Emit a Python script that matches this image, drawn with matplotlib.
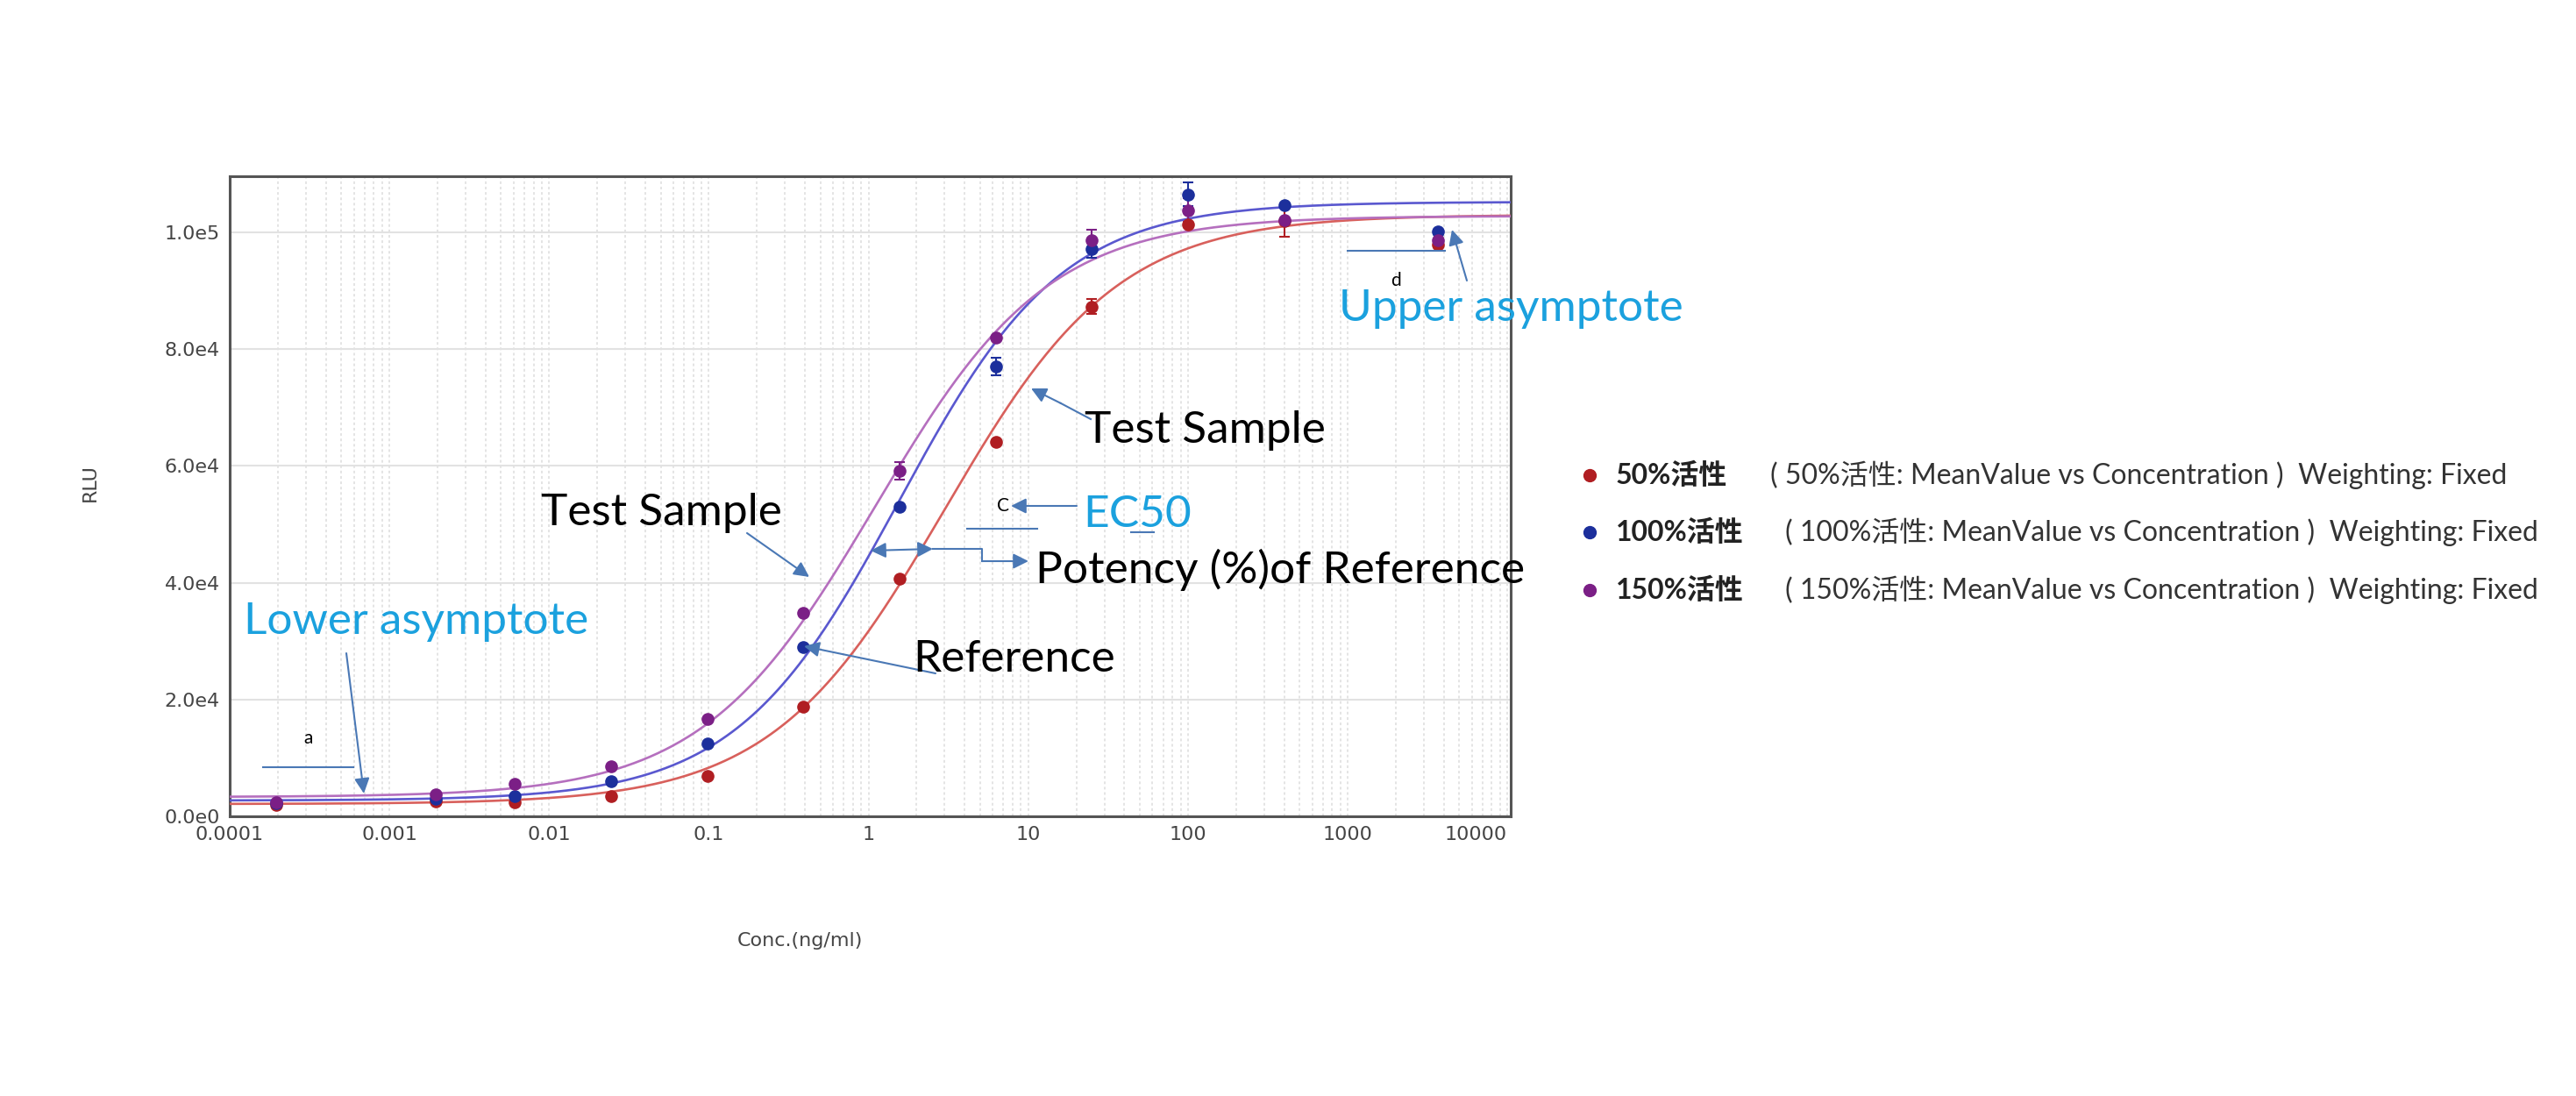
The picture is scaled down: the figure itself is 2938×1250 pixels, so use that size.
import matplotlib
matplotlib.use("Agg")
import matplotlib.pyplot as plt
from matplotlib.lines import Line2D
import numpy as np

W, H = 2938, 1250

# concentrations (ng/ml) and mean RLU
conc = [0.000195, 0.00195, 0.0061, 0.0244, 0.0977, 0.39, 1.5625, 6.25, 25, 100, 400, 3700]
rlu_50 = [2000, 2480, 2330, 3470, 6950, 18700, 40700, 64100, 87260, 101400, 102000, 97900]
rlu_100 = [2300, 2980, 3470, 5960, 12400, 29000, 53000, 77000, 97200, 106500, 104600, 100150]
rlu_150 = [2330, 3720, 5560, 8590, 16670, 34800, 59200, 82000, 98700, 103800, 102100, 98700]
err_50 = [0, 0, 0, 0, 0, 0, 0, 0, 1300, 0, 2800, 0]
err_100 = [0, 0, 0, 0, 0, 0, 0, 1500, 1500, 2000, 0, 0]
err_150 = [0, 0, 0, 0, 0, 0, 1500, 0, 1800, 2000, 0, 1200]

# 4PL fit parameters a (lower), b (slope), c (EC50), d (upper)
fit_50 = [2100, 0.80, 3.0, 103000]
fit_100 = [2700, 0.85, 1.55, 105200]
fit_150 = [3300, 0.80, 1.1, 102800]

names = ["50%活性", "100%活性", "150%活性"]
x_ticks = [1e-4, 1e-3, 1e-2, 1e-1, 1, 10, 100, 1000, 10000]
x_tick_labels = ["0.0001", "0.001", "0.01", "0.1", "1", "10", "100", "1000", "10000"]
y_ticks = [0, 20000, 40000, 60000, 80000, 100000]
y_tick_labels = ["0.0e0", "2.0e4", "4.0e4", "6.0e4", "8.0e4", "1.0e5"]

pt_colors = ["#b01e22", "#1c2f9c", "#7b1f86"]
line_colors = ["#d8605c", "#5a58cf", "#b56fbe"]
arrow_c = "#4a78b5"
cyan = "#1ba1de"

plt.rcParams['font.family'] = ['DejaVu Sans']


def fx(x):
    return x / W


def fy(y):
    return 1 - y / H


def four_pl(x, a, b, c, d):
    return d + (a - d) / (1 + (x / c) ** b)


fig = plt.figure(figsize=(W / 100, H / 100), dpi=100)
ax = fig.add_axes([fx(262), fy(931), (1723 - 262) / W, (931 - 201) / H])

xs = np.logspace(-4, 4.05, 500)
series = [(rlu_50, err_50, fit_50), (rlu_100, err_100, fit_100), (rlu_150, err_150, fit_150)]
for i, (vals, errs, fit) in enumerate(series):
    ax.plot(xs, four_pl(xs, *fit), color=line_colors[i], lw=1.9, zorder=3)
for i, (vals, errs, fit) in enumerate(series):
    ax.errorbar(conc, vals, yerr=errs, fmt='o', color=pt_colors[i], ms=9.5,
                elinewidth=1.5, capsize=4, capthick=1.5, zorder=4)

ax.set_xscale('log')
ax.set_xlim(1e-4, 1.05e4)
ax.set_ylim(0, 109600)
ax.set_xticks(x_ticks)
ax.set_xticklabels(x_tick_labels)
ax.set_yticks(y_ticks)
ax.set_yticklabels(y_tick_labels)
ax.get_xticklabels()[-1].set_horizontalalignment('right')
ax.tick_params(length=0, labelsize=16, labelcolor='#454545', pad=8)
ax.tick_params(which='minor', length=0)
ax.grid(which='major', axis='y', color='#e2e2e2', lw=1.5)
ax.grid(which='both', axis='x', color='#dddddd', lw=1.1, ls=(0, (2, 2)))
ax.set_axisbelow(True)
for s in ax.spines.values():
    s.set_color('#555555')
    s.set_linewidth(2.2)

fig.text(fx(103), fy(551), "RLU", rotation=90, fontsize=16, color='#454545',
         ha='center', va='center')
fig.text(fx(912), fy(1073), "Conc.(ng/ml)", fontsize=16, color='#454545',
         ha='center', va='center')

# annotations
ann_font = ['Lato', 'DejaVu Sans']
big = 37
fig.text(fx(617), fy(585), "Test Sample", fontsize=big, family=ann_font, ha='left', va='center')
fig.text(fx(1237), fy(491), "Test Sample", fontsize=big, family=ann_font, ha='left', va='center')
fig.text(fx(1041), fy(752), "Reference", fontsize=big, family=ann_font, ha='left', va='center')
fig.text(fx(1181), fy(650), "Potency (%)of Reference", fontsize=big, family=ann_font,
         ha='left', va='center')
fig.text(fx(1235), fy(587), "EC50", fontsize=big, family=ann_font, color=cyan, ha='left', va='center')
fig.text(fx(1527), fy(352), "Upper asymptote", fontsize=big, family=ann_font, color=cyan,
         ha='left', va='center')
fig.text(fx(278), fy(709), "Lower asymptote", fontsize=big, family=ann_font, color=cyan,
         ha='left', va='center')
fig.text(fx(352), fy(842), "a", fontsize=15, family=ann_font, ha='center', va='center')
fig.text(fx(1144), fy(577), "C", fontsize=15, family=ann_font, ha='center', va='center')
fig.text(fx(1592), fy(320), "d", fontsize=15, family=ann_font, ha='center', va='center')


def arrow(x0, y0, x1, y1, style='-|>'):
    fig.add_artist(matplotlib.patches.FancyArrowPatch(
        (fx(x0), fy(y0)), (fx(x1), fy(y1)), transform=fig.transFigure,
        arrowstyle=style, mutation_scale=26, color=arrow_c, lw=1.5, shrinkA=0, shrinkB=0))


def seg(xs_, ys_):
    fig.add_artist(Line2D([fx(v) for v in xs_], [fy(v) for v in ys_],
                          transform=fig.transFigure, color=arrow_c, lw=1.5))


arrow(852, 608, 923, 658)
arrow(1067, 768, 917, 737)
arrow(1210, 460, 1176, 443)
seg([1244, 1210], [478, 460])
arrow(1228, 577, 1153, 577)
seg([1103, 1183], [603, 603])
seg([1290, 1316], [607, 607])
arrow(993, 628, 1064, 626, style='<|-|>')
seg([1064, 1120, 1120], [626, 626, 640])
arrow(1120, 640, 1173, 640)
seg([1537, 1648], [286, 286])
arrow(1673, 320, 1656, 262)
seg([300, 403], [875, 875])
arrow(395, 745, 415, 905)

# legend
leg_font = ['Lato', 'Noto Sans CJK SC']
rows = [542, 607, 673]
paren_x = [2019, 2036, 2036]
for i in range(3):
    fig.add_artist(Line2D([fx(1813)], [fy(rows[i])], transform=fig.transFigure,
                          marker='o', ms=10, color=pt_colors[i], ls='none'))
    fig.text(fx(1843), fy(rows[i]), names[i], fontsize=23, family=leg_font,
             fontweight='bold', color='#222222', ha='left', va='center')
    fig.text(fx(paren_x[i]), fy(rows[i]),
             "( " + names[i] + ": MeanValue vs Concentration )  Weighting: Fixed",
             fontsize=23, family=leg_font, color='#333333', ha='left', va='center')

fig.savefig("out.png", dpi=100)
